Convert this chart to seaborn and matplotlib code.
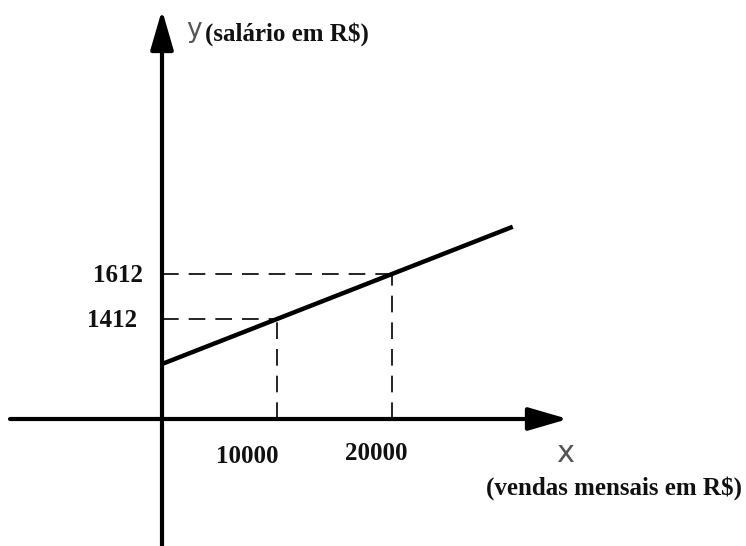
import matplotlib
matplotlib.use("Agg")
import matplotlib.pyplot as plt
import seaborn as sns
import pandas as pd

# Data
vendas = [0, 10000, 20000, 30500]          # x: vendas mensais (R$)
salario = [1212, 1412, 1612, 1822]         # y: salário (R$)
marked_x = [10000, 20000]
marked_y = [1412, 1612]
x_tick_labels = ["10000", "20000"]
y_tick_labels = ["1412", "1612"]

sns.set_theme(style="white")
plt.rcParams['font.family'] = ['Liberation Serif', 'DejaVu Serif']

W, H = 746, 546
fig = plt.figure(figsize=(W / 100, H / 100), dpi=100)
ax = fig.add_axes([0, 0, 1, 1])

# pixel mapping helpers (linear scales)
x0_px, sx = 162, 0.0115
y_ref_px, y_ref, sy = 274, 1612, 0.225
xlim = (-x0_px / sx, (W - x0_px) / sx)
ylim = (y_ref - (H - y_ref_px) / sy, y_ref + y_ref_px / sy)
ax.set_xlim(*xlim)
ax.set_ylim(*ylim)
ax.axis("off")

axis_y = y_ref - (419 - y_ref_px) / sy   # value where the x axis crosses

df = pd.DataFrame({"vendas": vendas, "salario": salario})
sns.lineplot(data=df, x="vendas", y="salario", ax=ax, color="black", lw=3.2,
             solid_capstyle="butt", zorder=3)

# dashed guides
for xv, yv in zip(marked_x, marked_y):
    ax.plot([0, xv], [yv, yv], color="black", lw=1.2, dashes=(10, 6), zorder=2)
    ax.plot([xv, xv], [axis_y, yv], color="black", lw=1.2, dashes=(10, 6), zorder=2)

# axes with arrows
x_start = xlim[0] + 10 / sx
x_tip = xlim[0] + 568 / sx
y_tip = ylim[1] - 10 / sy
arrow_style = "-|>,head_length=1.1,head_width=0.32"
ax.annotate("", xy=(x_tip, axis_y), xytext=(x_start, axis_y),
            arrowprops=dict(arrowstyle=arrow_style, mutation_scale=22, lw=3,
                            color="black", shrinkA=0, shrinkB=0), zorder=4)
ax.annotate("", xy=(0, y_tip), xytext=(0, ylim[0]),
            arrowprops=dict(arrowstyle=arrow_style, mutation_scale=22, lw=3,
                            color="black", shrinkA=0, shrinkB=0), zorder=4)

# tick labels
label_font = dict(fontweight="bold", fontsize=18, color="#111111")
y_offsets = {"1612": (-19, -8), "1412": (-25, -8)}
for yv, lab in zip(marked_y, y_tick_labels):
    ax.annotate(lab, xy=(0, yv), xytext=y_offsets[lab], textcoords="offset pixels",
                ha="right", va="baseline", **label_font)
x_offsets = {"10000": (-30, -44), "20000": (-16, -41)}
for xv, lab in zip(marked_x, x_tick_labels):
    ax.annotate(lab, xy=(xv, axis_y), xytext=x_offsets[lab], textcoords="offset pixels",
                ha="center", va="baseline", **label_font)

# axis names
sans = ["DejaVu Sans"]
ax.text(194 / W, 1 - 37 / H, "y", transform=ax.transAxes, ha="center", va="baseline",
        fontsize=19, color="#555555", family=sans)
ax.text(205 / W, 1 - 41 / H, "(salário em R$)", transform=ax.transAxes,
        ha="left", va="baseline", **label_font)
ax.text(565 / W, 1 - 462 / H, "x", transform=ax.transAxes, ha="center", va="baseline",
        fontsize=22, color="#555555", family=sans)
ax.text(742 / W, 1 - 495 / H, "(vendas mensais em R$)", transform=ax.transAxes,
        ha="right", va="baseline", **label_font)

fig.savefig("out.png", dpi=100)
